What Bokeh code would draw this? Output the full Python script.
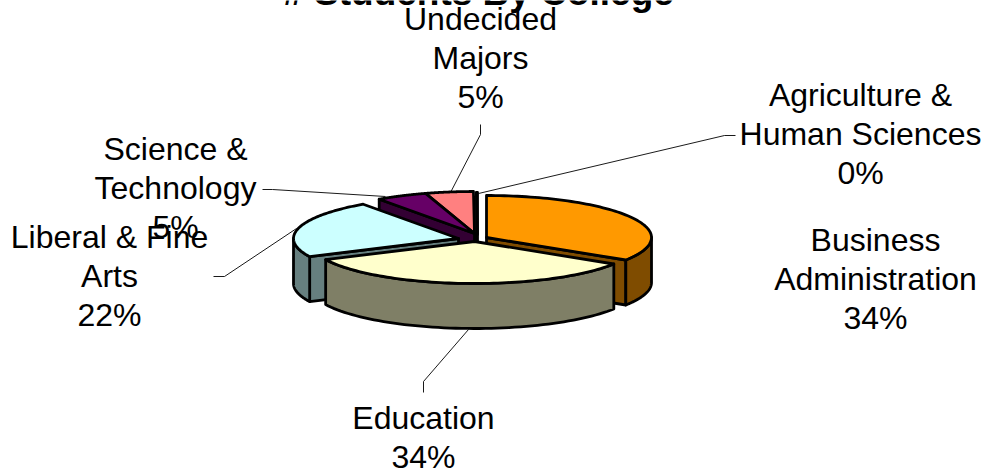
import numpy as np
from bokeh.core.properties import value
from bokeh.embed import file_html
from bokeh.models import Range1d
from bokeh.plotting import figure
from bokeh.resources import INLINE

title = "# Students By College"
colleges = ["Business\nAdministration", "Education", "Liberal & Fine\nArts",
            "Science &\nTechnology", "Undecided\nMajors", "Agriculture &\nHuman Sciences"]
shares = [34.0, 33.9, 22.3, 5.0, 4.7, 0.1]
percent_labels = ["34%", "34%", "22%", "5%", "5%", "0%"]
top_colors = ["#FF9900", "#FFFFCC", "#CCFFFF", "#660066", "#FF8080", "#000000"]
side_colors = ["#7F4C00", "#7F7F66", "#667F7F", "#330033", "#7F4040", "#000000"]

# layout
RX, RY, DEPTH = 165.0, 42.0, 45.0
APEX = [(486, 237), (474, 241), (458, 238), (474, 233), (474, 233), (477, 234)]
DRAW_ORDER = [4, 5, 3, 2, 0, 1]
LABEL_POS = [(875, 239), (423, 417), (109, 236), (175, 148), (480, 18), (860, 94)]
LINE_STEP = 39
LEADERS = [
    ([423, 423, 468], [392, 381, 329]),
    ([213, 224, 296], [276, 276, 228]),
    ([262, 272, 385], [189, 189, 196]),
    ([480, 480, 450], [124, 134, 192]),
    ([735, 724, 478], [135, 135, 193]),
]

p = figure(width=990, height=472, output_backend="svg", toolbar_location=None,
           x_range=Range1d(0, 990), y_range=Range1d(472, 0),
           min_border=0, outline_line_color=None, background_fill_color="white",
           border_fill_color="white")
p.xaxis.visible = False
p.yaxis.visible = False
p.grid.visible = False
p.styles = {"position": "absolute", "left": "0px", "top": "0px"}

fractions = np.array(shares) / sum(shares)
edges = np.concatenate([[0.0], np.cumsum(fractions)]) * 2 * np.pi


def rim(theta, ax, ay):
    return ax + RX * np.sin(theta), ay - RY * np.cos(theta)


def poly(xs, ys, color):
    p.patch(list(xs), list(ys), fill_color=color, line_color="black", line_width=2.8,
            line_join="round")


for i in DRAW_ORDER:
    ax, ay = APEX[i]
    a0, a1 = edges[i], edges[i + 1]
    # only the radial walls that face the viewer
    for a, visible in ((a0, np.sin(a0) < -1e-6), (a1, np.sin(a1) > 1e-6)):
        if visible:
            rx, ry = rim(a, ax, ay)
            poly([ax, rx, rx, ax], [ay, ry, ry + DEPTH, ay + DEPTH], side_colors[i])
    lo, hi = max(a0, np.pi / 2), min(a1, 3 * np.pi / 2)
    if hi > lo:
        t = np.linspace(lo, hi, 60)
        x, y = rim(t, ax, ay)
        poly(np.concatenate([x, x[::-1]]), np.concatenate([y, y[::-1] + DEPTH]), side_colors[i])
    t = np.linspace(a0, a1, 80)
    x, y = rim(t, ax, ay)
    poly(np.concatenate([[ax], x]), np.concatenate([[ay], y]), top_colors[i])

for lx, ly in LEADERS:
    p.line(lx, ly, line_color="black", line_width=0.9)

FONT = value("Liberation Sans")
p.text([478], [0], text=[title], text_font=FONT, text_font_size="37px", text_font_style="bold",
       text_align="center", text_baseline="middle", y_offset=-8, text_color="black")

for (cx, cy), name, pct in zip(LABEL_POS, colleges, percent_labels):
    lines = name.split("\n") + [pct]
    ys = [cy + k * LINE_STEP for k in range(len(lines))]
    p.text([cx] * len(lines), ys, text=lines, text_font=FONT, text_font_size="32px",
           text_align="center", text_baseline="middle", text_color="black")

open("out.html", "w").write(file_html(p, INLINE))
